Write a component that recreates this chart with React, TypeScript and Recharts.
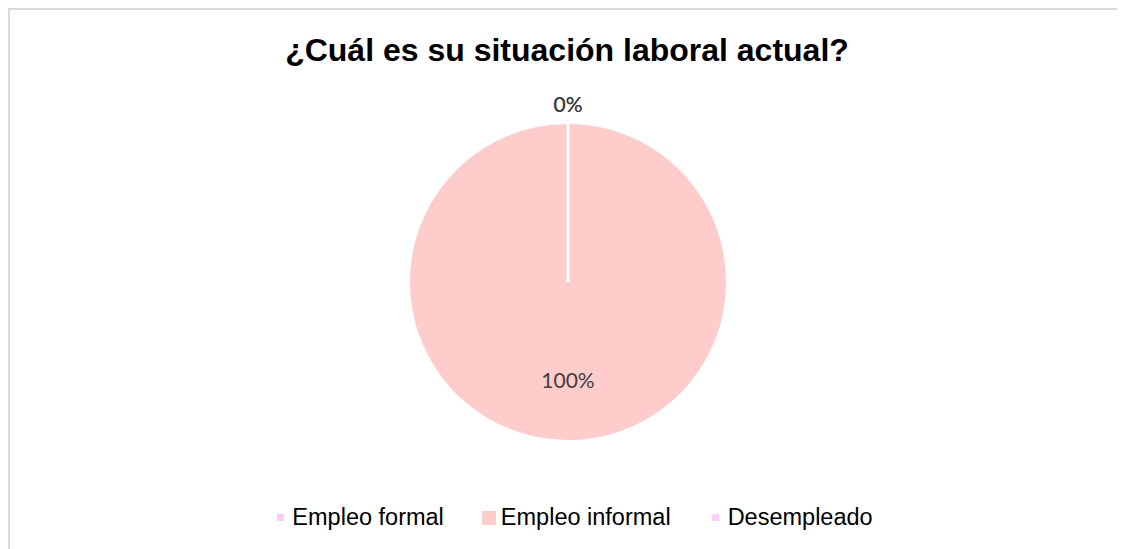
import React from "react";
import { PieChart, Pie, Cell, Legend } from "recharts";

const categories = ["Empleo formal", "Empleo informal", "Desempleado"];
const counts = [0, 100, 0];
const colors = ["#FFC9FA", "#FFCCCC", "#FFCCFF"];

const TITLE = "¿Cuál es su situación laboral actual?";

const data = categories.map((name, i) => ({ name, value: counts[i] }));

const W = 1118;
const H = 539;
// pie centre, relative to the chart area (after the 5px default margin)
const CX = 553;
const CY = 267;
const R = 159.5;

const RADIAN = Math.PI / 180;

function renderLabel(props: any) {
    const { cx, cy, midAngle, outerRadius, percent, value } = props;
    // zero slices sit outside the rim, the real one sits inside
    const r = value > 0 ? outerRadius * 0.61 : outerRadius + 19;
    const x = cx + r * Math.cos(-midAngle * RADIAN);
    const y = cy + r * Math.sin(-midAngle * RADIAN);
    return (
        <text
            x={x}
            y={y}
            textAnchor="middle"
            dominantBaseline="central"
            fill="#404040"
            fontSize={21}
            fontFamily="Lato, 'Open Sans', sans-serif"
        >
            {`${Math.round((percent || 0) * 100)}%`}
        </text>
    );
}

const LegendContent = () => (
    <div
        style={{
            display: "flex",
            justifyContent: "center",
            alignItems: "center",
            gap: 38,
            fontFamily: "'Liberation Sans', Arial, sans-serif",
            fontSize: 23.5,
            color: "#000",
            paddingLeft: 8,
        }}
    >
        {data.map((d, i) => {
            const size = d.value > 0 ? 14 : 7;
            return (
                <div key={d.name} style={{ display: "flex", alignItems: "center" }}>
                    <span
                        style={{
                            width: 14,
                            height: 14,
                            display: "inline-flex",
                            alignItems: "center",
                            justifyContent: "center",
                            marginRight: 5,
                        }}
                    >
                        <span
                            style={{
                                width: size,
                                height: size,
                                background: colors[i],
                                display: "block",
                            }}
                        />
                    </span>
                    <span>{d.name}</span>
                </div>
            );
        })}
    </div>
);

export default function App() {
    return (
        <div
            style={{
                width: 1140,
                height: 560,
                border: "2px solid #dadada",
                background: "#fff",
            }}
        >
            <PieChart width={W} height={H}>
                <text
                    x={557}
                    y={51}
                    textAnchor="middle"
                    fontFamily="'Liberation Sans', Arial, sans-serif"
                    fontWeight="bold"
                    fontSize={32}
                    fill="#000"
                >
                    {TITLE}
                </text>
                <Pie
                    data={data}
                    dataKey="value"
                    nameKey="name"
                    cx={CX}
                    cy={CY}
                    outerRadius={R}
                    startAngle={90}
                    endAngle={-270}
                    stroke="#fff"
                    strokeWidth={3}
                    label={renderLabel}
                    labelLine={false}
                    isAnimationActive={false}
                >
                    {data.map((d, i) => (
                        <Cell key={d.name} fill={colors[i]} />
                    ))}
                </Pie>
                <Legend
                    content={<LegendContent />}
                    wrapperStyle={{ top: 494, left: 0, width: W }}
                />
            </PieChart>
        </div>
    );
}
